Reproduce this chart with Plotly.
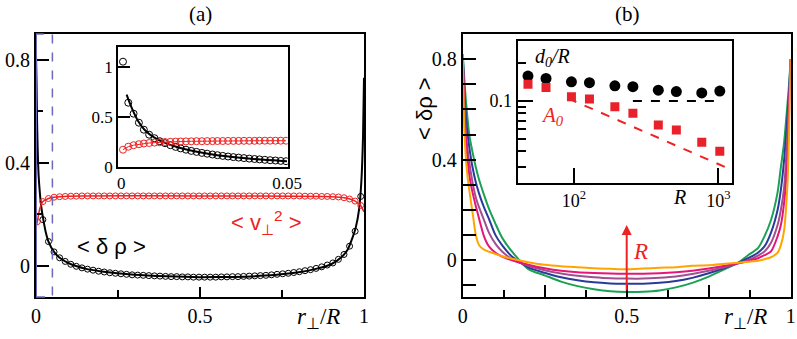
import plotly.graph_objects as go

W, H = 797, 339
SERIF = "Liberation Serif"
SANS = "Liberation Sans"
RED = "#ee2222"
BOXBLUE = "#6a6ab8"

# ---- panel (a): main profiles ----
X_A = [0.004, 0.021, 0.038, 0.055, 0.072, 0.089, 0.106, 0.123, 0.140, 0.157,
       0.174, 0.191, 0.208, 0.225, 0.242, 0.259, 0.276, 0.293, 0.310, 0.327,
       0.344, 0.361, 0.378, 0.395, 0.412, 0.429, 0.446, 0.463, 0.480, 0.497,
       0.514, 0.531, 0.548, 0.565, 0.582, 0.599, 0.616, 0.633, 0.650, 0.667,
       0.684, 0.701, 0.718, 0.735, 0.752, 0.769, 0.786, 0.803, 0.820, 0.837,
       0.854, 0.871, 0.888, 0.905, 0.922, 0.939, 0.956, 0.973, 0.990]
RHO_A = [1.05, 0.18, 0.095, 0.055, 0.032, 0.018, 0.007, -0.001, -0.007, -0.012,
         -0.016, -0.020, -0.023, -0.026, -0.028, -0.030, -0.032, -0.034, -0.035, -0.036,
         -0.037, -0.038, -0.039, -0.040, -0.041, -0.041, -0.042, -0.042, -0.043, -0.043,
         -0.043, -0.043, -0.043, -0.042, -0.042, -0.041, -0.041, -0.040, -0.039, -0.038,
         -0.037, -0.036, -0.034, -0.032, -0.030, -0.028, -0.025, -0.022, -0.018, -0.014,
         -0.009, -0.003, 0.004, 0.012, 0.026, 0.045, 0.077, 0.135, 0.27]
V2_A = [0.172, 0.250, 0.262, 0.267, 0.269, 0.270, 0.271, 0.271, 0.272, 0.272,
        0.272, 0.272, 0.272, 0.272, 0.272, 0.272, 0.272, 0.272, 0.272, 0.272,
        0.272, 0.272, 0.272, 0.272, 0.272, 0.272, 0.272, 0.272, 0.272, 0.272,
        0.272, 0.272, 0.272, 0.272, 0.272, 0.272, 0.272, 0.272, 0.272, 0.272,
        0.272, 0.272, 0.272, 0.272, 0.272, 0.272, 0.272, 0.272, 0.271, 0.271,
        0.271, 0.270, 0.270, 0.269, 0.268, 0.265, 0.260, 0.252, 0.235]
V2_LINE_X = [0.0, 0.004, 0.012, 0.021, 0.038, 0.055, 0.1, 0.5, 0.9, 0.94, 0.97, 0.99, 1.0]
V2_LINE = [0.15, 0.172, 0.225, 0.25, 0.262, 0.267, 0.271, 0.272, 0.269, 0.265, 0.254, 0.235, 0.21]
FIT_X = [0.0, 0.0016, 0.003, 0.005, 0.008, 0.012, 0.016, 0.021, 0.03, 0.038, 0.055,
         0.072, 0.1, 0.15, 0.2, 0.3, 0.4, 0.5, 0.6, 0.7, 0.8, 0.85, 0.9, 0.93,
         0.95, 0.965, 0.975, 0.985, 0.992, 0.997, 1.0]
FIT = [0.82, 0.72, 0.58, 0.46, 0.35, 0.28, 0.23, 0.19, 0.13, 0.095, 0.055,
       0.032, 0.011, -0.01, -0.021, -0.034, -0.04, -0.043, -0.042, -0.037, -0.024, -0.012, 0.007, 0.033,
       0.063, 0.11, 0.15, 0.22, 0.33, 0.5, 0.73]

# ---- panel (a): inset near the wall ----
X_IN = [0.0005, 0.0021, 0.0037, 0.0053, 0.0068, 0.0084, 0.0100, 0.0116, 0.0132, 0.0148,
        0.0164, 0.0179, 0.0195, 0.0211, 0.0227, 0.0243, 0.0259, 0.0275, 0.0290, 0.0306,
        0.0322, 0.0338, 0.0354, 0.0370, 0.0386, 0.0402, 0.0417, 0.0433, 0.0449, 0.0465,
        0.0481, 0.0497]
RHO_IN = [1.05, 0.64, 0.53, 0.44, 0.37, 0.32, 0.285, 0.255, 0.235, 0.215,
          0.198, 0.183, 0.170, 0.158, 0.148, 0.138, 0.130, 0.122, 0.115, 0.108,
          0.102, 0.096, 0.091, 0.086, 0.081, 0.077, 0.073, 0.069, 0.065, 0.062,
          0.058, 0.055]
V2_IN = [0.170, 0.200, 0.215, 0.225, 0.232, 0.237, 0.241, 0.244, 0.247, 0.249,
         0.251, 0.252, 0.253, 0.254, 0.255, 0.255, 0.256, 0.256, 0.257, 0.257,
         0.258, 0.258, 0.258, 0.259, 0.259, 0.259, 0.260, 0.260, 0.260, 0.260,
         0.260, 0.260]
FIT_IN_X = [0.0016, 0.0025, 0.0035, 0.005, 0.007, 0.01, 0.013, 0.017, 0.022, 0.028, 0.035, 0.042, 0.05]
FIT_IN = [0.72, 0.64, 0.56, 0.46, 0.37, 0.29, 0.24, 0.195, 0.155, 0.12, 0.092, 0.072, 0.055]

# ---- panel (b): profiles for increasing R ----
X_B = [0.0, 0.005, 0.01, 0.015, 0.02, 0.03, 0.04, 0.05, 0.065, 0.08, 0.1, 0.12, 0.15,
       0.2, 0.25, 0.3, 0.35, 0.4, 0.45, 0.5, 0.55, 0.6, 0.65, 0.7, 0.75, 0.8, 0.84,
       0.87, 0.9, 0.92, 0.94, 0.96, 0.97, 0.98, 0.99, 0.995, 1.0]
RHO_B = {
    "#1aa152": [0.82, 0.72, 0.63, 0.56, 0.50, 0.43, 0.37, 0.32, 0.26, 0.205, 0.145, 0.09, 0.035,
                -0.035, -0.06, -0.085, -0.103, -0.115, -0.123, -0.126, -0.125, -0.12, -0.108, -0.09, -0.065, -0.035, -0.01,
                0.02, 0.048, 0.095, 0.16, 0.27, 0.37, 0.47, 0.62, 0.70, 0.80],
    "#2a3a9a": [0.82, 0.68, 0.57, 0.50, 0.45, 0.37, 0.31, 0.265, 0.21, 0.165, 0.10, 0.06, 0.015,
                -0.028, -0.05, -0.068, -0.08, -0.088, -0.092, -0.093, -0.093, -0.09, -0.083, -0.07, -0.052, -0.03, -0.01,
                0.008, 0.03, 0.055, 0.11, 0.20, 0.28, 0.40, 0.57, 0.67, 0.80],
    "#a0508f": [0.82, 0.62, 0.50, 0.44, 0.39, 0.31, 0.25, 0.21, 0.16, 0.11, 0.065, 0.035, 0.005,
                -0.022, -0.04, -0.053, -0.062, -0.068, -0.072, -0.073, -0.073, -0.07, -0.065, -0.055, -0.042, -0.027, -0.012,
                0.0, 0.018, 0.035, 0.07, 0.14, 0.20, 0.29, 0.50, 0.63, 0.80],
    "#e6157a": [0.82, 0.60, 0.48, 0.40, 0.34, 0.27, 0.215, 0.165, 0.095, 0.055, 0.03, 0.015, 0.0,
                -0.018, -0.032, -0.042, -0.048, -0.051, -0.053, -0.054, -0.054, -0.052, -0.048, -0.042, -0.033, -0.022, -0.012,
                -0.003, 0.008, 0.02, 0.035, 0.095, 0.14, 0.23, 0.40, 0.57, 0.80],
    "#ffa500": [0.82, 0.52, 0.40, 0.33, 0.28, 0.19, 0.10, 0.06, 0.042, 0.034, 0.025, 0.016, 0.006,
                -0.008, -0.018, -0.024, -0.028, -0.032, -0.034, -0.036, -0.033, -0.030, -0.028, -0.022, -0.020, -0.014, -0.010,
                -0.006, -0.002, 0.004, 0.012, 0.03, 0.06, 0.12, 0.30, 0.50, 0.80],
}

# ---- panel (b): inset, scaling with R ----
R_IN = [48, 64, 96, 128, 192, 256, 384, 512, 768, 1024]
D0_R = [0.158, 0.151, 0.142, 0.140, 0.132, 0.130, 0.122, 0.119, 0.116, 0.120]
A0 = [0.136, 0.128, 0.108, 0.104, 0.090, 0.080, 0.0645, 0.059, 0.047, 0.040]
FLAT_R = [256, 1024]
FLAT = [0.1, 0.1]
SLOPE_R = [91, 1110]
SLOPE = [0.105, 0.030]


def px(x, y):
    return x / W, 1 - y / H


def dom(a, b, size):
    return [a / size, b / size]


def ydom(top, bottom):
    return [1 - bottom / H, 1 - top / H]


fig = go.Figure()

# panel (a)
fig.add_trace(go.Scatter(x=FIT_X, y=FIT, mode="lines", line=dict(color="black", width=2, shape="spline", smoothing=0.6),
                         xaxis="x", yaxis="y"))
fig.add_trace(go.Scatter(x=X_A, y=RHO_A, mode="markers",
                         marker=dict(symbol="circle-open", size=6, color="black", line=dict(width=1)),
                         xaxis="x", yaxis="y"))
fig.add_trace(go.Scatter(x=V2_LINE_X, y=V2_LINE, mode="lines", line=dict(color=RED, width=1.5, shape="spline", smoothing=0.6),
                         xaxis="x", yaxis="y"))
fig.add_trace(go.Scatter(x=X_A, y=V2_A, mode="markers",
                         marker=dict(symbol="circle-open", size=6, color=RED, line=dict(width=1)),
                         xaxis="x", yaxis="y"))

# inset (a)
fig.add_trace(go.Scatter(x=FIT_IN_X, y=FIT_IN, mode="lines", line=dict(color="black", width=2, shape="spline", smoothing=0.6),
                         xaxis="x2", yaxis="y2"))
fig.add_trace(go.Scatter(x=X_IN, y=RHO_IN, mode="markers",
                         marker=dict(symbol="circle-open", size=7, color="black", line=dict(width=1)),
                         xaxis="x2", yaxis="y2"))
fig.add_trace(go.Scatter(x=X_IN, y=V2_IN, mode="lines+markers", line=dict(color=RED, width=1),
                         marker=dict(symbol="circle-open", size=7, color=RED, line=dict(width=1)),
                         xaxis="x2", yaxis="y2"))

# panel (b)
for color, vals in RHO_B.items():
    fig.add_trace(go.Scatter(x=X_B, y=vals, mode="lines", line=dict(color=color, width=2, shape="spline", smoothing=0.7),
                             xaxis="x3", yaxis="y3"))

# inset (b)
fig.add_trace(go.Scatter(x=FLAT_R, y=FLAT, mode="lines", line=dict(color="black", width=2, dash="dash"),
                         xaxis="x4", yaxis="y4"))
fig.add_trace(go.Scatter(x=SLOPE_R, y=SLOPE, mode="lines", line=dict(color=RED, width=2, dash="dash"),
                         xaxis="x4", yaxis="y4"))
fig.add_trace(go.Scatter(x=R_IN, y=D0_R, mode="markers", marker=dict(symbol="circle", size=11, color="black"),
                         xaxis="x4", yaxis="y4"))
fig.add_trace(go.Scatter(x=R_IN, y=A0, mode="markers", marker=dict(symbol="square", size=9, color="#e8212b"),
                         xaxis="x4", yaxis="y4"))

tick_font = dict(family=SERIF, size=20, color="black")
inset_font = dict(family=SERIF, size=17, color="black")
common = dict(showline=True, linecolor="black", mirror=True, showgrid=False, zeroline=False,
              ticks="inside", tickcolor="black")

fig.update_layout(
    template="none",
    width=W, height=H, margin=dict(l=0, r=0, t=0, b=0),
    paper_bgcolor="white", plot_bgcolor="white", showlegend=False,
    font=dict(family=SERIF, size=20, color="black"),
    xaxis=dict(domain=dom(36, 364, W), anchor="y", range=[0, 1], linewidth=2,
               tickvals=[0, 0.5, 1], ticktext=["0", "0.5", "1"], ticklen=10, tickwidth=1.5, tickfont=tick_font,
               minor=dict(tickmode="array", tickvals=[0.25, 0.75], ticks="inside", ticklen=7, tickcolor="black"),
               **common),
    yaxis=dict(domain=ydom(34, 297), anchor="x", range=[-0.12, 0.9], linewidth=2,
               tickvals=[0, 0.4, 0.8], ticktext=["0", "0.4", "0.8"], ticklen=13, tickwidth=1.5, tickfont=tick_font,
               minor=dict(tickmode="array", tickvals=[0.2, 0.6], ticks="inside", ticklen=7, tickcolor="black"),
               **common),
    xaxis2=dict(domain=dom(118, 287.7, W), anchor="y2", range=[-0.001, 0.0502], linewidth=1.5,
                tickvals=[0, 0.05], ticktext=["0", "0.05"], ticklen=0, tickfont=inset_font, **common),
    yaxis2=dict(domain=ydom(46.7, 166.7), anchor="x2", range=[0, 1.2], linewidth=1.5,
                tickvals=[0, 0.5, 1], ticktext=["0", "0.5", "1"], ticklen=12, tickwidth=1.5, tickfont=inset_font,
                **common),
    xaxis3=dict(domain=dom(462.7, 790.7, W), anchor="y3", range=[0, 1], linewidth=2,
                tickvals=[0, 0.25, 0.5, 0.75, 1], ticktext=["0", "", "0.5", "", "1"], ticklen=12, tickwidth=1.5,
                tickfont=tick_font,
                minor=dict(tickmode="array", tickvals=[0.125, 0.375, 0.625, 0.875], ticks="inside", ticklen=7,
                           tickcolor="black"),
                **common),
    yaxis3=dict(domain=ydom(34, 296.7), anchor="x3", range=[-0.145, 0.9], linewidth=2,
                tickvals=[-0.1, 0, 0.1, 0.2, 0.3, 0.4, 0.5, 0.6, 0.7, 0.8],
                ticktext=["", "0", "", "", "", "0.4", "", "", "", "0.8"], ticklen=13, tickwidth=1.5,
                tickfont=tick_font, **common),
    xaxis4=dict(domain=dom(517.7, 732.3, W), anchor="y4", type="log", range=[1.61, 3.097], linewidth=2,
                tickvals=[100, 1000], ticktext=["10<sup>2</sup>", "10<sup>3</sup>"], ticklen=15, tickwidth=1.5,
                tickfont=dict(family=SERIF, size=18, color="black"), **common),
    yaxis4=dict(domain=ydom(40.7, 183.3), anchor="x4", type="log", range=[-1.653, -0.521], linewidth=2,
                tickvals=[0.1], ticktext=["0.1"], ticklen=15, tickwidth=1.5,
                tickfont=dict(family=SERIF, size=18, color="black"),
                minor=dict(tickmode="array", tickvals=[0.03, 0.04, 0.05, 0.06, 0.07, 0.08, 0.09, 0.2],
                           ticks="inside", ticklen=8, tickcolor="black"),
                **common),
)

# region of panel (a) magnified in the inset
fig.add_shape(type="rect", xref="x", yref="y domain", x0=0, x1=0.05, y0=0, y1=1,
              line=dict(color=BOXBLUE, width=1.5, dash="dash"), layer="above")
fig.add_shape(type="line", xref="x", yref="y domain", x0=0, x1=0, y0=0, y1=1,
              line=dict(color=BOXBLUE, width=2), layer="above")

green = list(RHO_B.values())[0]
fig.add_annotation(xref="x3", yref="y3", axref="x3", ayref="y3", x=0.5, y=0.14, ax=0.5, ay=min(green),
                   showarrow=True, arrowhead=2, arrowsize=1, arrowwidth=2, arrowcolor=RED, text="")

texts = [
    ("(a)", 200, 14, dict(family=SERIF, size=21, color="black"), 0),
    ("(b)", 627, 14, dict(family=SERIF, size=21, color="black"), 0),
    ("&lt; δ ρ &gt;", 111, 246, dict(family=SANS, size=22, color="black"), 0),
    ("&lt; v<sub>⊥</sub><sup>2</sup> &gt;", 266, 222, dict(family=SANS, size=22, color=RED), 0),
    ("<i>r</i><sub>⊥</sub>/<i>R</i>", 318, 318, dict(family=SERIF, size=23, color="black"), 0),
    ("<i>r</i><sub>⊥</sub>/<i>R</i>", 745, 318, dict(family=SERIF, size=23, color="black"), 0),
    ("&lt; δρ &gt;", 424, 108, dict(family=SANS, size=22, color="black"), -90),
    ("<i>R</i>", 640, 251, dict(family=SERIF, size=23, color=RED), 0),
    ("<i>R</i>", 679, 197, dict(family=SERIF, size=20, color="black"), 0),
    ("<i>d</i><sub><i>0</i></sub><i>/R</i>", 552, 58, dict(family=SERIF, size=20, color="black"), 0),
    ("<i>A</i><sub><i>0</i></sub>", 552, 116, dict(family=SERIF, size=21, color=RED), 0),
]
for text, x, y, font, angle in texts:
    ax_, ay_ = px(x, y)
    fig.add_annotation(xref="paper", yref="paper", x=ax_, y=ay_, text=text, showarrow=False,
                       font=font, textangle=angle, xanchor="center", yanchor="middle")

# plotly's page keeps the browser's default 8px body margin; drop it so the figure fills the window
fig.write_html("out.html", config={"displayModeBar": False},
               post_script="document.body.style.margin='0';")
